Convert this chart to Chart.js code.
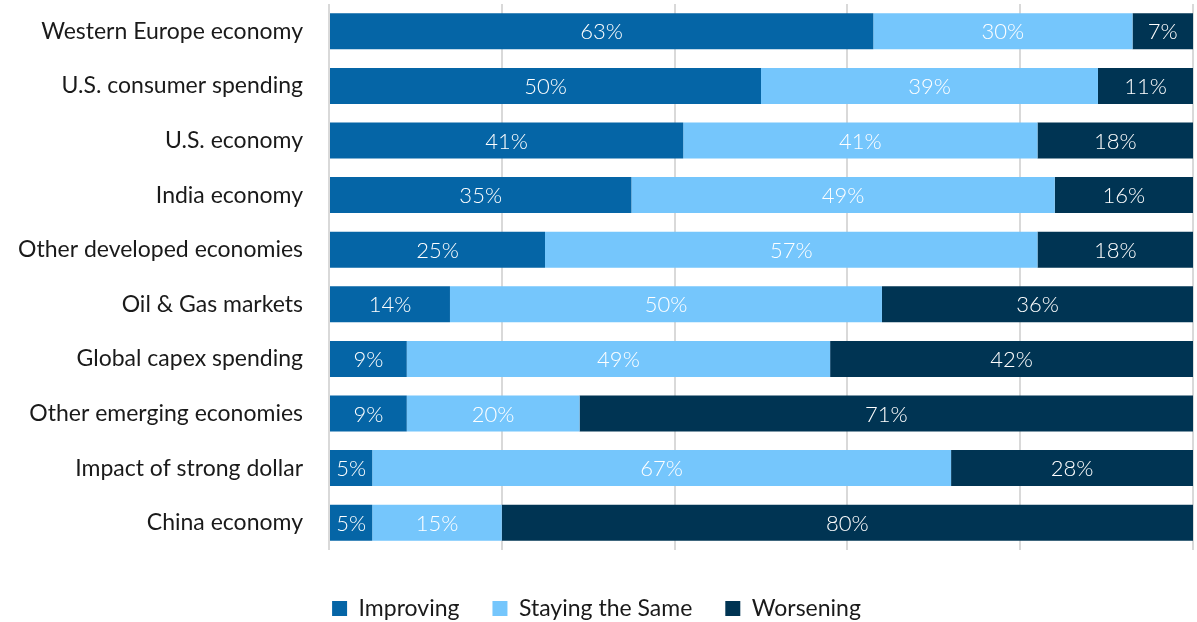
<!DOCTYPE html>
<html>
<head>
<meta charset="utf-8">
<script src="https://cdn.jsdelivr.net/npm/chart.js@4.4.0/dist/chart.umd.min.js"></script>
<style>
  html, body { margin: 0; padding: 0; background: #ffffff; }
  #wrap { width: 1197px; height: 622px; position: relative; }
</style>
</head>
<body>
<div id="wrap"><canvas id="c" width="1197" height="622"></canvas></div>
<script>
const categories = [
  "Western Europe economy",
  "U.S. consumer spending",
  "U.S. economy",
  "India economy",
  "Other developed economies",
  "Oil & Gas markets",
  "Global capex spending",
  "Other emerging economies",
  "Impact of strong dollar",
  "China economy"
];
const improving = [63, 50, 41, 35, 25, 14, 9, 9, 5, 5];
const stayingSame = [30, 39, 41, 49, 57, 50, 49, 20, 67, 15];
const worsening = [7, 11, 18, 16, 18, 36, 42, 71, 28, 80];
const seriesNames = ["Improving", "Staying the Same", "Worsening"];
const xTicks = [0, 20, 40, 60, 80, 100];

const FONT = "Lato, 'Noto Sans', sans-serif";

const barLabels = {
  id: 'barLabels',
  afterDatasetsDraw(chart) {
    const ctx = chart.ctx;
    ctx.save();
    ctx.fillStyle = '#ffffff';
    ctx.font = "300 22px " + FONT;
    ctx.textAlign = 'center';
    ctx.textBaseline = 'middle';
    chart.data.datasets.forEach((ds, di) => {
      const meta = chart.getDatasetMeta(di);
      meta.data.forEach((el, i) => {
        const v = ds.data[i];
        const cx = (el.x + el.base) / 2;
        ctx.fillText(v + '%', cx, el.y + 1);
      });
    });
    ctx.restore();
  }
};

new Chart(document.getElementById('c'), {
  type: 'bar',
  data: {
    labels: categories,
    datasets: [
      { label: seriesNames[0], data: improving, backgroundColor: '#0565A6' },
      { label: seriesNames[1], data: stayingSame, backgroundColor: '#75C6FC' },
      { label: seriesNames[2], data: worsening, backgroundColor: '#003453' }
    ]
  },
  options: {
    indexAxis: 'y',
    responsive: false,
    animation: false,
    layout: { padding: { top: 4, right: 4, left: 0, bottom: -8 } },
    datasets: { bar: { categoryPercentage: 1, barPercentage: 0.66, borderWidth: 0 } },
    scales: {
      x: {
        stacked: true,
        min: 0,
        max: 100,
        afterBuildTicks(scale) { scale.ticks = xTicks.map(v => ({ value: v })); },
        ticks: { display: false },
        grid: { color: '#d9d9d9', lineWidth: 2, drawTicks: false },
        border: { display: false },
        afterFit(scale) { scale.height = 14; scale.paddingLeft = 0; scale.paddingRight = 0; }
      },
      y: {
        stacked: true,
        grid: { display: false, drawTicks: false },
        border: { display: false },
        ticks: { padding: 26, color: '#1a1a1a', font: { family: FONT, size: 23 } },
        afterFit(scale) { scale.width = 329; scale.paddingTop = 0; scale.paddingBottom = 0; }
      }
    },
    plugins: {
      legend: {
        position: 'bottom',
        labels: {
          boxWidth: 15,
          boxHeight: 15,
          padding: 33,
          color: '#1a1a1a',
          font: { family: FONT, size: 23 }
        }
      },
      tooltip: { enabled: false }
    }
  },
  plugins: [barLabels]
});
</script>
</body>
</html>
